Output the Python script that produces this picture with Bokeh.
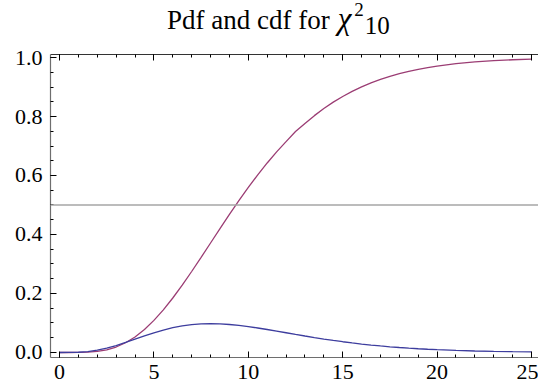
from bokeh.plotting import figure
from bokeh.models import LinearAxis, FixedTicker, Span, Range1d, ColumnDataSource, Div
from bokeh.layouts import column
from bokeh.embed import file_html
from bokeh.resources import INLINE

# ---- data ----
x_vals = [0, 0.5, 1, 1.5, 2, 2.5, 3, 3.5, 4, 4.5, 5, 5.5, 6, 6.5, 7, 7.5, 8, 8.5, 9, 9.5,
          10, 10.5, 11, 11.5, 12, 12.5, 13, 13.5, 14, 14.5, 15, 15.5, 16, 16.5, 17, 17.5,
          18, 18.5, 19, 19.5, 20, 21, 22, 23, 24, 25]
pdf_vals = [0.0, 0.00006, 0.00079, 0.00311, 0.00766, 0.01457, 0.02353, 0.03395, 0.04511,
            0.05628, 0.06680, 0.07617, 0.08402, 0.09012, 0.09441, 0.09689, 0.09768, 0.09695,
            0.09490, 0.09176, 0.08773, 0.08305, 0.07791, 0.07248, 0.06693, 0.06137, 0.05591,
            0.05064, 0.04561, 0.04088, 0.03646, 0.03237, 0.02863, 0.02521, 0.02213, 0.01935,
            0.01687, 0.01466, 0.01270, 0.01098, 0.00946, 0.00697, 0.00509, 0.00369, 0.00265,
            0.00190]
cdf_vals = [0.0, 0.00001, 0.00017, 0.00107, 0.00366, 0.00912, 0.01858, 0.03290, 0.05265,
            0.07801, 0.10882, 0.14462, 0.18474, 0.22835, 0.27456, 0.32245, 0.37116, 0.41988,
            0.46790, 0.51460, 0.55951, 0.60223, 0.64248, 0.68009, 0.71494, 0.74895, 0.77633,
            0.80296, 0.82701, 0.84862, 0.86794, 0.88513, 0.90037, 0.91381, 0.92564, 0.93599,
            0.94504, 0.95291, 0.95974, 0.96565, 0.97075, 0.97893, 0.98490, 0.98925, 0.99240,
            0.99465]
half_level = 0.5

x_major_ticks = [0, 5, 10, 15, 20, 25]
x_minor_ticks = [0, 1, 2, 3, 4, 5, 6, 7, 8, 9, 10, 11, 12, 13, 14, 15, 16, 17, 18, 19,
                 20, 21, 22, 23, 24, 25]
y_major_ticks = [0.0, 0.2, 0.4, 0.6, 0.8, 1.0]
y_major_labels = ["0.0", "0.2", "0.4", "0.6", "0.8", "1.0"]
y_minor_ticks = [0.0, 0.05, 0.1, 0.15, 0.2, 0.25, 0.3, 0.35, 0.4, 0.45, 0.5, 0.55, 0.6,
                 0.65, 0.7, 0.75, 0.8, 0.85, 0.9, 0.95, 1.0]

title_main = "Pdf and cdf for"
title_symbol = "χ"
title_sup = "2"
title_sub = "10"

PDF_COLOR = "#3d3d9e"
CDF_COLOR = "#9b3d74"
FONT = "Liberation Serif"

source = ColumnDataSource(dict(x=x_vals, pdf=pdf_vals, cdf=cdf_vals))

p = figure(width=538, height=343,
           x_range=Range1d(-0.477, 25.37), y_range=Range1d(-0.017, 1.0102),
           output_backend="svg", toolbar_location=None,
           min_border_left=50, min_border_right=0, min_border_top=8, min_border_bottom=32,
           x_axis_location=None, y_axis_location=None, margin=0)
p.outline_line_color = None
p.xgrid.visible = False
p.ygrid.visible = False
p.background_fill_color = "white"
p.border_fill_color = "white"

hl = Span(location=half_level, dimension="width", line_color="#a6a6a6", line_width=1.5)
p.add_layout(hl)

p.line("x", "cdf", source=source, line_color=CDF_COLOR, line_width=1.3)
p.line("x", "pdf", source=source, line_color=PDF_COLOR, line_width=1.3)

def style_axis(ax):
    ax.axis_line_color = "#6e6e6e"
    ax.axis_line_width = 1.2
    ax.major_tick_line_color = "black"
    ax.minor_tick_line_color = "black"
    ax.major_tick_in = 6
    ax.major_tick_out = 0
    ax.minor_tick_in = 3
    ax.minor_tick_out = 0
    ax.major_label_text_font = FONT
    ax.major_label_text_color = "black"

xticker = FixedTicker(ticks=x_major_ticks, minor_ticks=x_minor_ticks)
yticker = FixedTicker(ticks=y_major_ticks, minor_ticks=y_minor_ticks)

bottom = LinearAxis(ticker=xticker)
style_axis(bottom)
bottom.major_label_text_font_size = "22px"
bottom.major_label_standoff = 7
p.add_layout(bottom, "below")

left = LinearAxis(ticker=yticker,
                  major_label_overrides={t: s for t, s in zip(y_major_ticks, y_major_labels)})
style_axis(left)
left.major_label_text_font_size = "22px"
left.major_label_standoff = 8
p.add_layout(left, "left")

top = LinearAxis(ticker=xticker,
                 major_label_overrides={t: "" for t in x_major_ticks})
style_axis(top)
top.major_label_text_font_size = "1px"
top.major_label_standoff = 0
top.axis_line_color = "#333333"
p.add_layout(top, "above")

title_html = (
    f'<span style="white-space:nowrap">{title_main}'
    f'<i style="font-size:31px; margin-left:8px;">{title_symbol}</i>'
    f'<span style="font-size:19px; position:relative; top:-13px; margin-left:3px;">{title_sup}</span>'
    f'<span style="font-size:25px; position:relative; top:5px; margin-left:1px;">{title_sub}</span>'
    f'</span>'
)
title_div = Div(text=title_html, width=538, height=46, margin=0,
                styles={"font-family": FONT, "font-size": "27px",
                        "line-height": "28px", "padding-left": "167px",
                        "padding-top": "5px", "color": "black"})

layout = column(title_div, p, spacing=0, margin=0)

open("out.html", "w").write(file_html(layout, INLINE))
